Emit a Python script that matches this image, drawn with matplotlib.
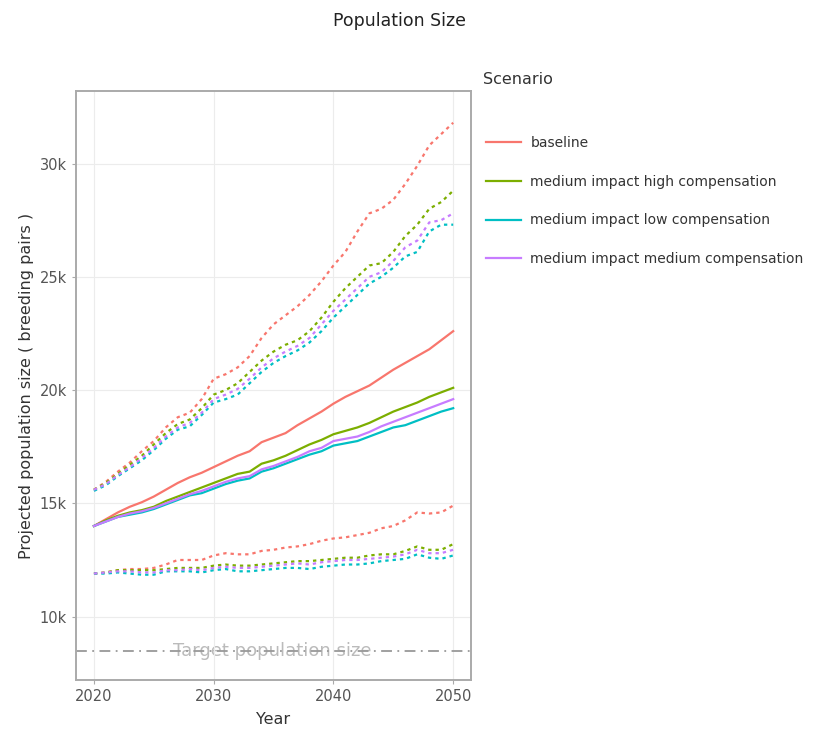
import numpy as np
from matplotlib import pyplot as plt
from matplotlib.ticker import FuncFormatter

years = np.arange(2020, 2051)

scenarios = [
    'baseline',
    'medium impact high compensation',
    'medium impact low compensation',
    'medium impact medium compensation',
]
colors = ['#F8766D', '#7CAE00', '#00BFC4', '#C77CFF']

# mean projection (thousands of breeding pairs)
mean_baseline = [14.0, 14.3, 14.6, 14.85, 15.05, 15.3, 15.6, 15.9, 16.15, 16.35, 16.6,
                 16.85, 17.1, 17.3, 17.7, 17.9, 18.1, 18.45, 18.75, 19.05, 19.4,
                 19.7, 19.95, 20.2, 20.55, 20.9, 21.2, 21.5, 21.8, 22.2, 22.6]
mean_high = [14.0, 14.25, 14.45, 14.6, 14.7, 14.85, 15.1, 15.3, 15.5, 15.7, 15.9,
             16.1, 16.3, 16.4, 16.75, 16.9, 17.1, 17.35, 17.6, 17.8, 18.05,
             18.2, 18.35, 18.55, 18.8, 19.05, 19.25, 19.45, 19.7, 19.9, 20.1]
mean_low = [14.0, 14.2, 14.4, 14.5, 14.6, 14.75, 14.95, 15.15, 15.35, 15.45, 15.65,
            15.85, 16.0, 16.1, 16.4, 16.55, 16.75, 16.95, 17.15, 17.3, 17.55,
            17.65, 17.75, 17.95, 18.15, 18.35, 18.45, 18.65, 18.85, 19.05, 19.2]
mean_medium = [14.0, 14.2, 14.4, 14.55, 14.65, 14.8, 15.0, 15.2, 15.4, 15.55, 15.75,
               15.95, 16.1, 16.2, 16.5, 16.65, 16.85, 17.05, 17.3, 17.45, 17.75,
               17.85, 17.95, 18.15, 18.4, 18.6, 18.8, 19.0, 19.2, 19.4, 19.6]

# upper bound
upper_baseline = [15.6, 15.95, 16.4, 16.8, 17.3, 17.75, 18.35, 18.8, 19.0, 19.6, 20.5,
                  20.7, 21.0, 21.5, 22.3, 22.9, 23.3, 23.7, 24.2, 24.8, 25.5,
                  26.1, 27.0, 27.8, 28.0, 28.4, 29.1, 29.9, 30.8, 31.3, 31.8]
upper_high = [15.6, 15.9, 16.3, 16.7, 17.1, 17.6, 18.1, 18.5, 18.7, 19.2, 19.8,
              20.0, 20.3, 20.8, 21.3, 21.7, 22.0, 22.2, 22.6, 23.2, 23.9,
              24.5, 25.0, 25.5, 25.6, 26.1, 26.8, 27.3, 28.0, 28.3, 28.8]
upper_low = [15.55, 15.8, 16.2, 16.55, 16.9, 17.35, 17.85, 18.25, 18.4, 18.9, 19.45,
             19.6, 19.8, 20.3, 20.8, 21.2, 21.5, 21.75, 22.1, 22.6, 23.2,
             23.7, 24.2, 24.7, 25.0, 25.4, 25.9, 26.1, 27.0, 27.3, 27.3]
upper_medium = [15.6, 15.85, 16.25, 16.6, 17.0, 17.45, 17.95, 18.35, 18.55, 19.0, 19.6,
                19.8, 20.05, 20.5, 21.0, 21.4, 21.7, 21.95, 22.3, 22.9, 23.5,
                24.0, 24.5, 25.0, 25.2, 25.7, 26.3, 26.6, 27.4, 27.5, 27.8]

# lower bound
lower_baseline = [11.9, 11.95, 12.05, 12.1, 12.1, 12.15, 12.3, 12.5, 12.5, 12.5, 12.7,
                  12.8, 12.75, 12.75, 12.9, 12.95, 13.05, 13.1, 13.2, 13.35, 13.45,
                  13.5, 13.6, 13.7, 13.9, 14.0, 14.25, 14.6, 14.55, 14.6, 14.9]
lower_high = [11.9, 11.95, 12.05, 12.05, 12.05, 12.05, 12.1, 12.15, 12.15, 12.15, 12.25,
              12.3, 12.25, 12.25, 12.3, 12.35, 12.4, 12.45, 12.45, 12.5, 12.55,
              12.6, 12.6, 12.7, 12.75, 12.75, 12.9, 13.1, 12.95, 12.95, 13.2]
lower_low = [11.9, 11.9, 11.95, 11.9, 11.85, 11.85, 12.0, 12.0, 12.0, 11.95, 12.05,
             12.1, 12.0, 12.0, 12.05, 12.1, 12.15, 12.15, 12.1, 12.2, 12.25,
             12.3, 12.3, 12.35, 12.45, 12.5, 12.55, 12.75, 12.6, 12.55, 12.7]
lower_medium = [11.9, 11.95, 12.0, 12.0, 11.95, 11.95, 12.05, 12.05, 12.1, 12.05, 12.15,
                12.2, 12.15, 12.15, 12.2, 12.25, 12.3, 12.35, 12.3, 12.4, 12.45,
                12.5, 12.5, 12.55, 12.6, 12.65, 12.75, 12.95, 12.8, 12.8, 12.95]

means = [mean_baseline, mean_high, mean_low, mean_medium]
uppers = [upper_baseline, upper_high, upper_low, upper_medium]
lowers = [lower_baseline, lower_high, lower_low, lower_medium]

target = 8.5
target_label = 'Target population size'

fig = plt.figure(figsize=(8.32, 7.4), dpi=100)
ax = fig.add_axes([0.0913, 0.081, 0.475, 0.796])

for name, color, mean, up, low in zip(scenarios, colors, means, uppers, lowers):
    ax.plot(years, np.array(mean) * 1000, color=color, linewidth=1.6, label=name)
    ax.plot(years, np.array(up) * 1000, color=color, linewidth=1.6, linestyle=(0, (1.5, 1.8)))
    ax.plot(years, np.array(low) * 1000, color=color, linewidth=1.6, linestyle=(0, (1.5, 1.8)))

ax.axhline(target * 1000, color='#999999', linewidth=1.3, linestyle=(0, (6, 3, 1, 3)), zorder=1)
ax.text(2034.9, target * 1000, target_label, ha='center', va='center',
        color='#bbbbbb', fontsize=13, zorder=0.5)

ax.set_xlim(2018.5, 2051.5)
ax.set_ylim(7200, 33200)
ax.set_xticks([2020, 2030, 2040, 2050])
ax.set_yticks([10000, 15000, 20000, 25000, 30000])
ax.yaxis.set_major_formatter(FuncFormatter(lambda v, p: f'{int(v / 1000)}k'))

ax.grid(True, color='#ececec', linewidth=0.8)
ax.set_axisbelow(True)
for s in ax.spines.values():
    s.set_color('#aaaaaa')
    s.set_linewidth(1.4)
ax.tick_params(colors='#555555', labelsize=10.5, length=3, width=0.8)
ax.tick_params(axis='both', color='#aaaaaa')

ax.set_xlabel('Year', fontsize=11.5, color='#333333', labelpad=6)
ax.set_ylabel('Projected population size ( breeding pairs )', fontsize=11.5, color='#333333', labelpad=4)

fig.text(0.48, 0.972, 'Population Size', ha='center', va='center', fontsize=12.5, color='#222222')
fig.text(483 / 832, 1 - 80 / 740, 'Scenario', ha='left', va='center', fontsize=11.5, color='#333333')

leg = fig.legend(*ax.get_legend_handles_labels(), loc='upper left',
                 bbox_to_anchor=(486 / 832, 1 - 136 / 740), frameon=False,
                 fontsize=10, handlelength=2.5, handletextpad=0.7, labelspacing=1.78,
                 borderpad=0, borderaxespad=0)
for t in leg.get_texts():
    t.set_color('#333333')

fig.savefig('out.png', dpi=100)
